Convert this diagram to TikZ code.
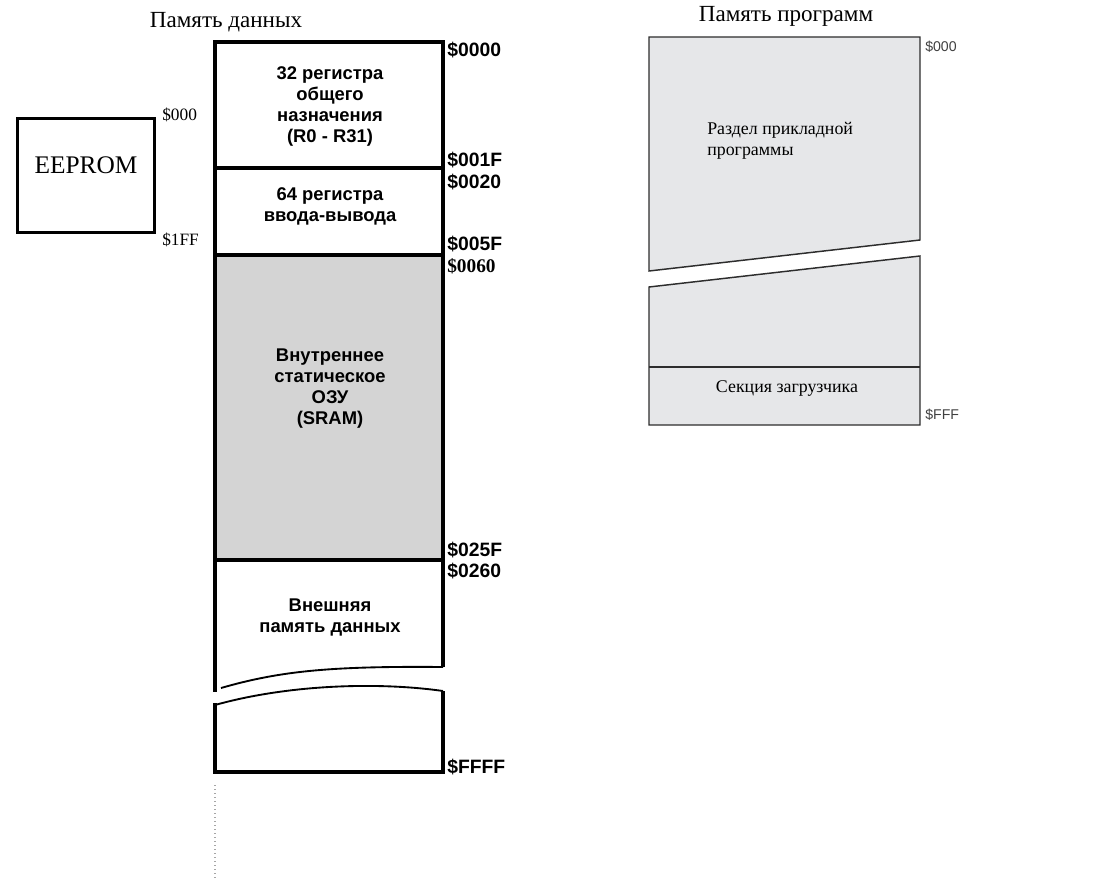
\documentclass[tikz,border=0pt]{standalone}
\usepackage{fontspec}
\setmainfont{Liberation Serif}
\setsansfont{Liberation Sans}
\usetikzlibrary{positioning}
\definecolor{pgmfill}{RGB}{230,231,233}
\definecolor{pgmline}{RGB}{45,45,45}
\definecolor{sramfill}{RGB}{212,212,212}

\begin{document}
\begin{tikzpicture}[
    x=0.75pt, y=-0.75pt,
    title/.style={inner sep=0pt, font=\fontsize{17.3}{20}\selectfont},
    cell/.style={align=center, inner sep=0pt, font=\sffamily\bfseries\fontsize{13.8}{15.75}\selectfont},
    addr/.style={anchor=west, inner sep=0pt, font=\sffamily\bfseries\fontsize{14.5}{16}\selectfont},
    saddr/.style={anchor=west, inner sep=0pt, font=\fontsize{13}{15}\selectfont},
    paddr/.style={anchor=west, inner sep=0pt, text=black!75, font=\sffamily\fontsize{10.6}{12}\selectfont},
    ptext/.style={inner sep=0pt, font=\fontsize{13.4}{15.75}\selectfont},
    dmem/.style={draw=black, line width=2.6pt},
    brk/.style={draw=black, line width=1.4pt},
    pmem/.style={draw=pgmline, fill=pgmfill, line width=1.1pt, line join=miter}
]
    \useasboundingbox (0,0) rectangle (1113,892);

    % titles
    \node (dtitle) [title] at (226,22) {Память данных};
    \node (ptitle) [title] at (786,16) {Память программ};

    % EEPROM
    \node (eeprom) [draw=black, line width=2.4pt, inner sep=0pt, text depth=16pt,
        minimum width=103pt, minimum height=86pt, font=\fontsize{19}{22}\selectfont] at (86,175.5) {EEPROM};
    \node (e0) [saddr] at (162,115) {\$000};
    \node (e1) [saddr] at (162,240) {\$1FF};

    % data memory column
    \fill[sramfill] (215,255) rectangle (443,560);
    \draw[dmem] (443,667) -- (443,42) -- (215,42) -- (215,692);
    \draw[dmem] (215,168) -- (443,168);
    \draw[dmem] (215,255) -- (443,255);
    \draw[dmem] (215,560) -- (443,560);
    \draw[brk] (221,688) .. controls (280,671) and (330,666) .. (443,667);
    \draw[brk] (215,705) .. controls (290,684) and (380,682) .. (443,691);
    \draw[dmem] (215,703) -- (215,772) -- (443,772) -- (443,691);
    \draw[black!35, line width=1pt, dotted] (215,785) -- (215,880);

    \node (gpr) [cell] at (330,106.5) {32 регистра\\общего\\назначения\\(R0 - R31)};
    \node (io) [cell] at (330,206.5) {64 регистра\\ввода-вывода};
    \node (sram) [cell] at (330,389) {Внутреннее\\статическое\\ОЗУ\\(SRAM)};
    \node (ext) [cell] at (330,617.5) {Внешняя\\память данных};

    \node (a0000) [addr] at (447,50) {\$0000};
    \node (a001F) [addr] at (447,160) {\$001F};
    \node (a0020) [addr] at (447,182) {\$0020};
    \node (a005F) [addr] at (447,244) {\$005F};
    \node (a0060) [addr, font=\bfseries\fontsize{14.5}{16}\selectfont] at (447,266) {\$0060};
    \node (a025F) [addr] at (447,550) {\$025F};
    \node (a0260) [addr] at (447,571) {\$0260};
    \node (aFFFF) [addr] at (447,767) {\$FFFF};

    % program memory
    \draw[pmem] (649,37) -- (920,37) -- (920,240) -- (649,271) -- cycle;
    \draw[pmem] (649,287) -- (920,256) -- (920,425) -- (649,425) -- cycle;
    \draw[pmem] (649,367) -- (920,367);

    \node (app) [ptext, anchor=west, align=left] at (707,140.5) {Раздел прикладной\\программы};
    \node (boot) [ptext] at (787,389) {Секция загрузчика};
    \node (p000) [paddr] at (925,47) {\$000};
    \node (pFFF) [paddr] at (925,415) {\$FFF};
\end{tikzpicture}
\end{document}
